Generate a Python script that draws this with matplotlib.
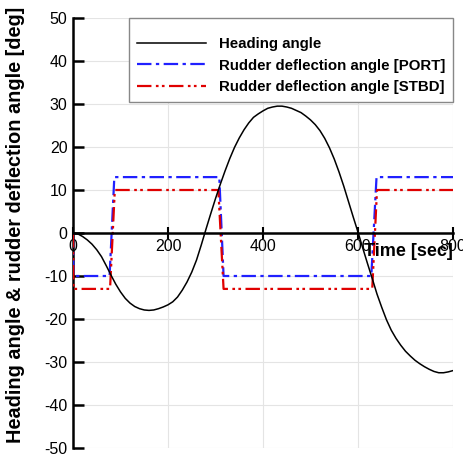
import matplotlib
matplotlib.use("Agg")
import matplotlib.pyplot as plt

plt.rcParams['font.family'] = ['Liberation Sans', 'DejaVu Sans']
plt.rcParams['axes.unicode_minus'] = False

# heading angle every 10 s
time = list(range(0, 801, 10))
heading = [0, -0.2, -0.8, -1.6, -2.6, -3.9, -5.5, -7.6, -9.8, -11.9,
           -13.7, -15.2, -16.3, -17.1, -17.6, -17.9, -18.0, -17.9, -17.6, -17.2,
           -16.7, -16.0, -14.9, -13.3, -11.4, -9.1, -6.3, -2.8, 0.9, 4.5,
           8.0, 11.3, 14.4, 17.3, 19.9, 22.1, 24.0, 25.6, 26.9, 27.7,
           28.4, 29.0, 29.3, 29.5, 29.5, 29.3, 29.0, 28.5, 28.0, 27.2,
           26.3, 25.2, 23.8, 22.0, 19.8, 17.2, 14.2, 10.9, 7.3, 3.7,
           0.2, -3.5, -7.1, -10.6, -14.2, -17.3, -20.2, -22.6, -24.5, -26.1,
           -27.5, -28.6, -29.6, -30.4, -31.1, -31.7, -32.2, -32.5, -32.5, -32.3,
           -32.0]

# rudder deflection (switch points)
port_t = [0, 1, 77, 87, 308, 317, 628, 639, 800]
port_v = [0, -10, -10, 13, 13, -10, -10, 13, 13]
stbd_t = [0, 1, 78, 88, 306, 317, 630, 640, 800]
stbd_v = [0, -13, -13, 10, 10, -13, -13, 10, 10]

xticks = [0, 200, 400, 600, 800]
yticks = list(range(-50, 51, 10))

fig = plt.figure(figsize=(4.63, 4.55), dpi=100)
ax = fig.add_axes([73 / 463, 1 - 448 / 455, 380 / 463, 430 / 455])

ax.plot(time, heading, color="black", lw=1.1, label="Heading angle", zorder=4)
ax.plot(port_t, port_v, color="#2020ff", lw=1.6, linestyle=(0, (6.5, 2, 1.5, 2)),
        label="Rudder deflection angle [PORT]", zorder=3)
ax.plot(stbd_t, stbd_v, color="#e00000", lw=1.6,
        linestyle=(0, (6.5, 2, 1.2, 1.5, 1.2, 2)),
        label="Rudder deflection angle [STBD]", zorder=3)

ax.set_xlim(0, 800)
ax.set_ylim(-50, 50)
ax.set_xticks(xticks)
ax.set_yticks(yticks)

ax.grid(True, color="#e4e4e4", lw=0.8)
ax.set_axisbelow(True)

for s in ["top", "right"]:
    ax.spines[s].set_visible(False)
ax.spines["left"].set_linewidth(1.8)
ax.spines["bottom"].set_linewidth(1.8)
ax.spines["bottom"].set_position(("data", 0))
ax.spines["bottom"].set_zorder(5)

ax.tick_params(axis="y", direction="in", length=8, width=1.8, labelsize=11.5, pad=4)
ax.tick_params(axis="x", direction="inout", length=8, width=1.5, labelsize=11.5, pad=0)

ax.set_ylabel("Heading angle & rudder deflection angle [deg]",
              fontsize=14.3, fontweight="bold")
ax.yaxis.set_label_coords(-0.125, 0.52)
ax.text(800, -4.2, "Time [sec]", fontsize=13, fontweight="bold",
        ha="right", va="center", zorder=6)

leg = ax.legend(loc="upper right", bbox_to_anchor=(1.0, 1.0), borderaxespad=0.0,
                fancybox=False, framealpha=1, edgecolor="#888888",
                prop={"weight": "bold", "size": 10.8}, handlelength=4.6,
                handletextpad=0.9, labelspacing=0.5, borderpad=0.5,
                title=" ", title_fontsize=2.5)
leg.get_frame().set_linewidth(1.0)

fig.savefig("out.png", dpi=100)
